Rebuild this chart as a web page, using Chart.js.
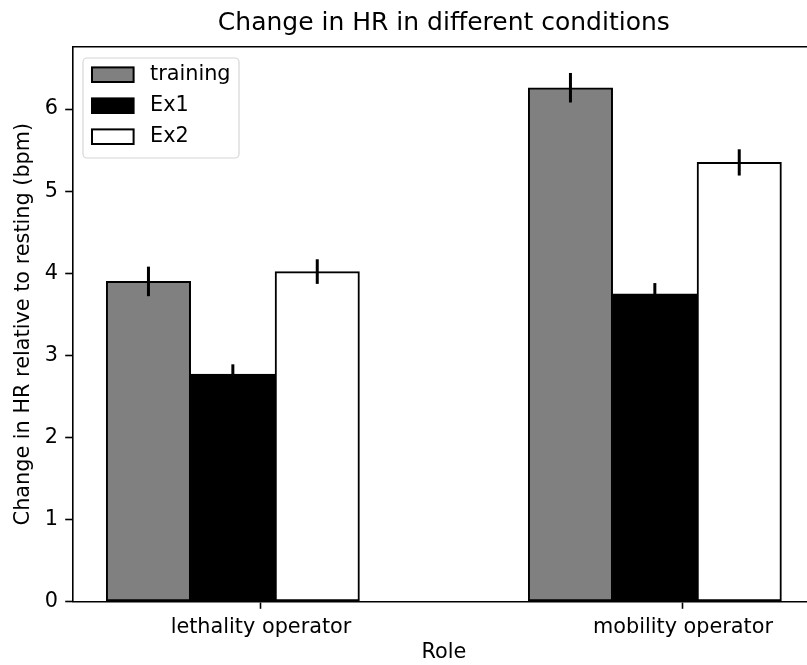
<!DOCTYPE html>
<html>
<head>
<meta charset="utf-8">
<title>Change in HR in different conditions</title>
<script src="https://cdn.jsdelivr.net/npm/chart.js@4"></script>
<style>
  html, body { margin: 0; padding: 0; background: #fff; overflow: hidden; }
</style>
</head>
<body>
<canvas id="hr-chart" width="817" height="665"></canvas>
<script>
// roles on the x axis
const roles = ['lethality operator', 'mobility operator'];
const conditions = ['training', 'Ex1', 'Ex2'];

// mean change in HR (bpm) per role, and the error for each bar
const training = [3.90, 6.26];
const trainingErr = [0.18, 0.18];
const ex1 = [2.77, 3.75];
const ex1Err = [0.12, 0.13];
const ex2 = [4.02, 5.35];
const ex2Err = [0.15, 0.16];

const yTicks = [0, 1, 2, 3, 4, 5, 6];

// bar layout along the x axis (in role units)
const barWidth = 0.2;
const barOffsets = [-barWidth, 0, barWidth];
const roleTickShift = barWidth / 3;

const fills = ['#808080', '#000000', '#ffffff'];
const values = [training, ex1, ex2];
const errors = [trainingErr, ex1Err, ex2Err];

Chart.defaults.font.family = "'DejaVu Sans', sans-serif";
Chart.defaults.font.size = 20.8;
Chart.defaults.color = '#000';

const datasets = conditions.map((name, i) => ({
  label: name,
  data: roles.map((r, j) => ({ x: j + barOffsets[i], y: values[i][j] })),
  errors: errors[i],
  backgroundColor: fills[i],
  borderColor: '#000',
  borderWidth: 2,
  borderSkipped: false,
  grouped: false,
  categoryPercentage: 1,
  barPercentage: 1
}));

// vertical error bars, no caps
const errorBars = {
  id: 'errorBars',
  afterDatasetsDraw(chart) {
    const ctx = chart.ctx;
    const yScale = chart.scales.y;
    ctx.save();
    ctx.strokeStyle = '#000';
    ctx.lineWidth = 3;
    chart.data.datasets.forEach((ds, i) => {
      const meta = chart.getDatasetMeta(i);
      meta.data.forEach((bar, j) => {
        const v = ds.data[j].y;
        const e = ds.errors[j];
        ctx.beginPath();
        ctx.moveTo(bar.x, yScale.getPixelForValue(v + e));
        ctx.lineTo(bar.x, yScale.getPixelForValue(v - e));
        ctx.stroke();
      });
    });
    ctx.restore();
  }
};

// top/right spines and the legend inside the axes
const frameAndLegend = {
  id: 'frameAndLegend',
  afterDraw(chart) {
    const { ctx, chartArea } = chart;
    ctx.save();
    ctx.strokeStyle = '#000';
    ctx.lineWidth = 1.6;
    ctx.beginPath();
    ctx.moveTo(chartArea.left, chartArea.top);
    ctx.lineTo(chartArea.right, chartArea.top);
    ctx.lineTo(chartArea.right, chartArea.bottom);
    ctx.stroke();

    const lx = chartArea.left + 10.5;
    const ly = chartArea.top + 11.3;
    const lw = 156, lh = 100;
    ctx.beginPath();
    ctx.roundRect(lx, ly, lw, lh, 4);
    ctx.fillStyle = 'rgba(255,255,255,0.8)';
    ctx.fill();
    ctx.strokeStyle = '#d6d6d6';
    ctx.lineWidth = 1.2;
    ctx.stroke();

    ctx.font = "20.8px 'DejaVu Sans', sans-serif";
    ctx.textBaseline = 'middle';
    ctx.textAlign = 'left';
    chart.data.datasets.forEach((ds, i) => {
      const cy = ly + 16.7 + i * 31;
      ctx.fillStyle = ds.backgroundColor;
      ctx.fillRect(lx + 9, cy - 7.3, 41.6, 14.6);
      ctx.strokeStyle = '#000';
      ctx.lineWidth = 2;
      ctx.strokeRect(lx + 9, cy - 7.3, 41.6, 14.6);
      ctx.fillStyle = '#000';
      ctx.fillText(ds.label, lx + 67, cy);
    });
    ctx.restore();
  }
};

new Chart(document.getElementById('hr-chart'), {
  type: 'bar',
  data: { datasets },
  options: {
    responsive: false,
    animation: false,
    layout: { padding: { left: 0, right: 1.8, top: 0, bottom: 0 } },
    plugins: {
      legend: { display: false },
      tooltip: { enabled: false },
      title: {
        display: true,
        fullSize: false,
        text: 'Change in HR in different conditions',
        font: { size: 25, weight: 'normal' },
        color: '#000',
        padding: { top: 8, bottom: 8.7 }
      }
    },
    scales: {
      x: {
        type: 'linear',
        offset: false,
        min: -0.38,
        max: 1.38,
        afterFit(scale) { scale.height = 63.5; },
        afterBuildTicks(scale) {
          scale.ticks = roles.map((r, j) => ({ value: j + roleTickShift }));
        },
        ticks: {
          autoSkip: false,
          maxRotation: 0,
          padding: 6.5,
          callback: (value, index) => roles[index]
        },
        grid: {
          display: true,
          offset: false,
          drawOnChartArea: false,
          drawTicks: true,
          tickLength: 7.3,
          tickColor: '#000',
          tickWidth: 1.6
        },
        border: { display: true, color: '#000', width: 1.6 },
        title: {
          display: true,
          text: 'Role',
          font: { size: 20.8 },
          padding: { top: 0, bottom: 0 }
        }
      },
      y: {
        min: 0,
        max: 6.76,
        afterFit(scale) { scale.width = 72.5; },
        afterBuildTicks(scale) {
          scale.ticks = yTicks.map(v => ({ value: v }));
        },
        ticks: { padding: 7.3 },
        grid: {
          display: true,
          drawOnChartArea: false,
          drawTicks: true,
          tickLength: 7.3,
          tickColor: '#000',
          tickWidth: 1.6
        },
        border: { display: true, color: '#000', width: 1.6 },
        title: {
          display: true,
          text: 'Change in HR relative to resting (bpm)',
          font: { size: 20.8 },
          padding: { top: 11, bottom: 0 }
        }
      }
    }
  },
  plugins: [errorBars, frameAndLegend]
});
</script>
</body>
</html>
